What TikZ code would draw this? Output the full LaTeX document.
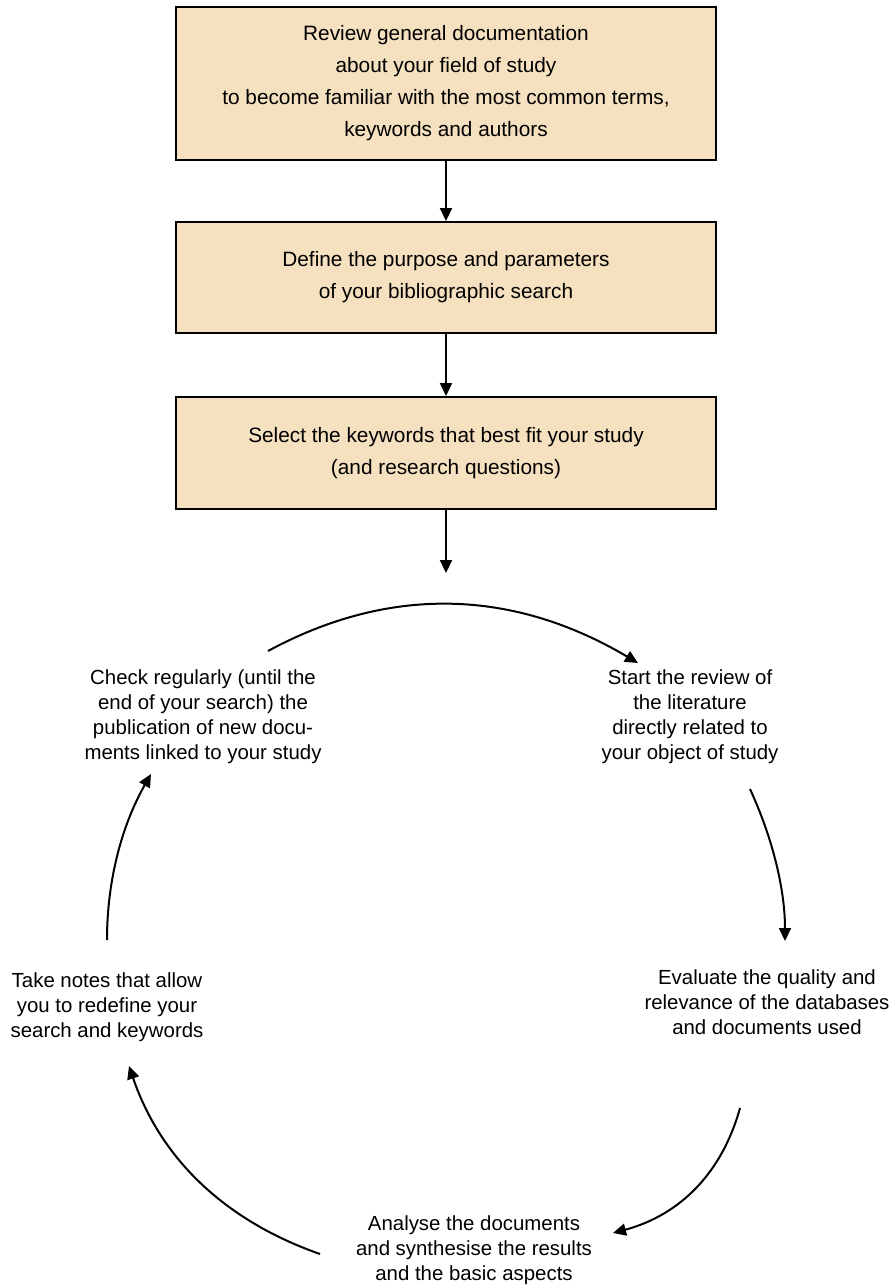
\documentclass[tikz,border=0pt]{standalone}
\usepackage{fontspec}
\setmainfont{Liberation Sans}
\usetikzlibrary{arrows.meta}
\definecolor{boxfill}{RGB}{245,224,192}
\tikzset{
  stepbox/.style={draw=black, line width=2pt, fill=boxfill, rectangle,
    minimum width=540pt, minimum height=#1, align=center,
    font=\fontsize{20.8}{32}\selectfont},
  cyclelabel/.style={align=center, inner sep=0pt,
    font=\fontsize{20.4}{25}\selectfont},
  flow/.style={line width=2pt, -{Triangle[length=13pt,width=12pt]}}
}
\begin{document}
\begin{tikzpicture}[x=1pt,y=-1pt]
  \useasboundingbox (0,0) rectangle (894,1286);

  % linear steps
  \node[stepbox=153pt] (b1) at (446,83.5) {Review general documentation\\about your field of study\\to become familiar with the most common terms,\\keywords and authors};
  \node[stepbox=111pt] (b2) at (446,277.5) {Define the purpose and parameters\\of your bibliographic search};
  \node[stepbox=112pt] (b3) at (446,453) {Select the keywords that best fit your study\\(and research questions)};
  \coordinate (entry) at (446,573);

  \draw[flow] (b1.south) -- (b2.north);
  \draw[flow] (b2.south) -- (b3.north);
  \draw[flow] (b3.south) -- (entry);

  % review cycle
  \node[cyclelabel] (c1) at (690,717) {Start the review of\\the literature\\directly related to\\your object of study};
  \node[cyclelabel] (c2) at (767,1002) {Evaluate the quality and\\relevance of the databases\\and documents used};
  \node[cyclelabel] (c3) at (474,1250) {Analyse the documents\\and synthesise the results\\and the basic aspects};
  \node[cyclelabel] (c4) at (107,1007) {Take notes that allow\\you to redefine your\\search and keywords};
  \node[cyclelabel] (c5) at (203,717) {Check regularly (until the\\end of your search) the\\publication of new docu-\\ments linked to your study};

  \coordinate (a1s) at (268,651); \coordinate (a1e) at (638,663);
  \coordinate (a2s) at (750,789); \coordinate (a2e) at (785,941);
  \coordinate (a3s) at (740,1108); \coordinate (a3e) at (613,1233);
  \coordinate (a4s) at (320,1254); \coordinate (a4e) at (129,1066);
  \coordinate (a5s) at (107,940); \coordinate (a5e) at (151,774);

  \draw[flow] (a1s) .. controls (390,585) and (513,589) .. (a1e);
  \draw[flow] (a2s) .. controls (773,839) and (785,890) .. (a2e);
  \draw[flow] (a3s) .. controls (722,1173) and (680,1215) .. (a3e);
  \draw[flow] (a4s) .. controls (223,1220) and (160,1157) .. (a4e);
  \draw[flow] (a5s) .. controls (107,880) and (122,825) .. (a5e);
\end{tikzpicture}
\end{document}
